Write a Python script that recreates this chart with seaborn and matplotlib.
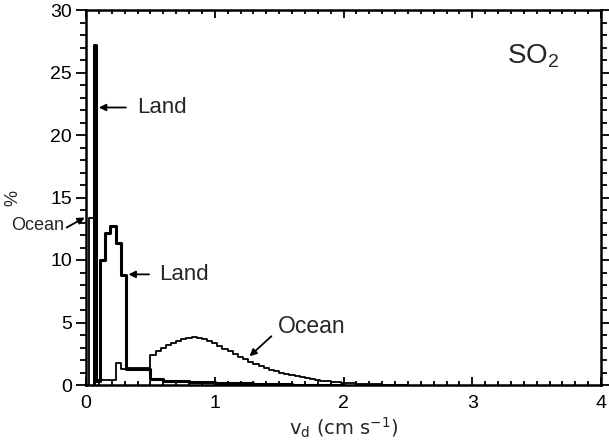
import numpy as np
import matplotlib
matplotlib.use("Agg")
import matplotlib.pyplot as plt
import seaborn as sns

# ---------------- data (percent of grid cells per v_d bin) ----------------
land_edges = [0.06, 0.08, 0.11, 0.15, 0.19, 0.23, 0.27, 0.31, 0.50, 0.60, 0.80, 1.00, 1.30, 1.60, 2.00]
land_pct = [27.2, 0.3, 10.0, 12.2, 12.7, 11.4, 8.8, 1.3, 0.5, 0.35, 0.25, 0.15, 0.08, 0.03]

ocean_low_edges = [0.02, 0.06, 0.08, 0.11, 0.23, 0.27, 0.31]
ocean_low_pct = [13.4, 2.0, 0.4, 0.4, 1.8, 1.3, 1.4]
ocean_bin = 0.04
ocean_start = 0.50
ocean_pct_main = [2.4, 2.7, 3.0, 3.2, 3.4, 3.55, 3.7, 3.8, 3.85, 3.8,
                  3.7, 3.55, 3.35, 3.15, 2.9, 2.7, 2.45, 2.25, 2.05, 1.85,
                  1.65, 1.5, 1.35, 1.2, 1.1, 0.98, 0.88, 0.78, 0.7, 0.62,
                  0.55, 0.48, 0.42, 0.36, 0.31, 0.27, 0.23, 0.2, 0.17, 0.14,
                  0.12, 0.1, 0.08, 0.06, 0.05, 0.04, 0.03, 0.02, 0.01, 0.0]

x_ticks = [0, 1, 2, 3, 4]
y_ticks = [0, 5, 10, 15, 20, 25, 30]

# ---------------- helpers ----------------
def step_path(edges, vals):
    xs = [edges[0]] + list(edges)
    ys = [0.0] + list(vals) + [0.0]
    return xs, ys

ocean_main_edges = list(np.round(ocean_start + ocean_bin * np.arange(len(ocean_pct_main)), 4))
ocean_edges = ocean_low_edges + ocean_main_edges + [round(ocean_main_edges[-1] + ocean_bin, 4)]
ocean_pct = ocean_low_pct + ocean_pct_main

sns.set_theme(style="ticks")
plt.rcParams['font.family'] = ['Liberation Sans', 'DejaVu Sans']
plt.rcParams['mathtext.fontset'] = 'custom'
plt.rcParams['mathtext.rm'] = 'Liberation Sans'
plt.rcParams['mathtext.it'] = 'Liberation Sans'

fig = plt.figure(figsize=(6.09, 4.43), dpi=100)
ax = fig.add_axes([86/609, 58/443, 515/609, 375/443])

lx, ly = step_path(land_edges, land_pct)
ox, oy = step_path(ocean_edges, ocean_pct)
sns.lineplot(x=ox, y=oy, estimator=None, sort=False, drawstyle='steps-post',
             color='black', linewidth=1.3, ax=ax)
sns.lineplot(x=lx, y=ly, estimator=None, sort=False, drawstyle='steps-post',
             color='black', linewidth=2.2, ax=ax)

ax.set_xlim(0, 4)
ax.set_ylim(0, 30)
ax.set_xticks(x_ticks)
ax.set_yticks(y_ticks)
ax.set_xticks(np.arange(0, 4.001, 0.1), minor=True)
ax.set_yticks(np.arange(0, 30.001, 1), minor=True)
ax.set_xticklabels([str(t) for t in x_ticks], fontsize=14)
ax.set_yticklabels([str(t) for t in y_ticks], fontsize=14)

for s in ax.spines.values():
    s.set_linewidth(1.8)
    s.set_color('black')

ax.tick_params(axis='x', which='both', direction='in', top=True, bottom=True, width=1.3, colors='black')
ax.tick_params(axis='x', which='major', length=6, pad=7)
ax.tick_params(axis='x', which='minor', length=3)
ax.tick_params(axis='y', which='both', direction='out', left=True, right=True, width=1.3, colors='black')
ax.tick_params(axis='y', which='major', length=7, pad=3)
ax.tick_params(axis='y', which='minor', length=4)

ax.set_xlabel(r"v$_\mathregular{d}$ (cm s$^\mathregular{-1}$)", fontsize=14,
              family='DejaVu Sans', labelpad=3)
ax.set_ylabel("%", fontsize=13)
ax.yaxis.set_label_coords(-0.125, 0.5)

arrow = dict(arrowstyle='-|>', color='black', lw=1.3, mutation_scale=10, shrinkA=0, shrinkB=0)
ax.annotate("", xy=(0.10, 22.2), xytext=(0.31, 22.2), arrowprops=arrow)
ax.text(0.40, 22.2, "Land", fontsize=16, va='center', ha='left')
ax.annotate("", xy=(0.33, 8.85), xytext=(0.49, 8.85), arrowprops=arrow)
ax.text(0.57, 8.85, "Land", fontsize=16, va='center', ha='left')
ax.annotate("", xy=(1.27, 2.3), xytext=(1.44, 3.9), arrowprops=arrow)
ax.text(1.49, 4.7, "Ocean", fontsize=16.5, va='center', ha='left')
ax.annotate("", xy=(-0.01, 13.4), xytext=(-0.15, 12.6), arrowprops=arrow,
            annotation_clip=False)
ax.text(-0.17, 12.8, "Ocean", fontsize=13, va='center', ha='right')
ax.text(3.27, 26.3, r"SO$_\mathregular{2}$", fontsize=20, va='center', ha='left')

fig.savefig("out.png", dpi=100)
